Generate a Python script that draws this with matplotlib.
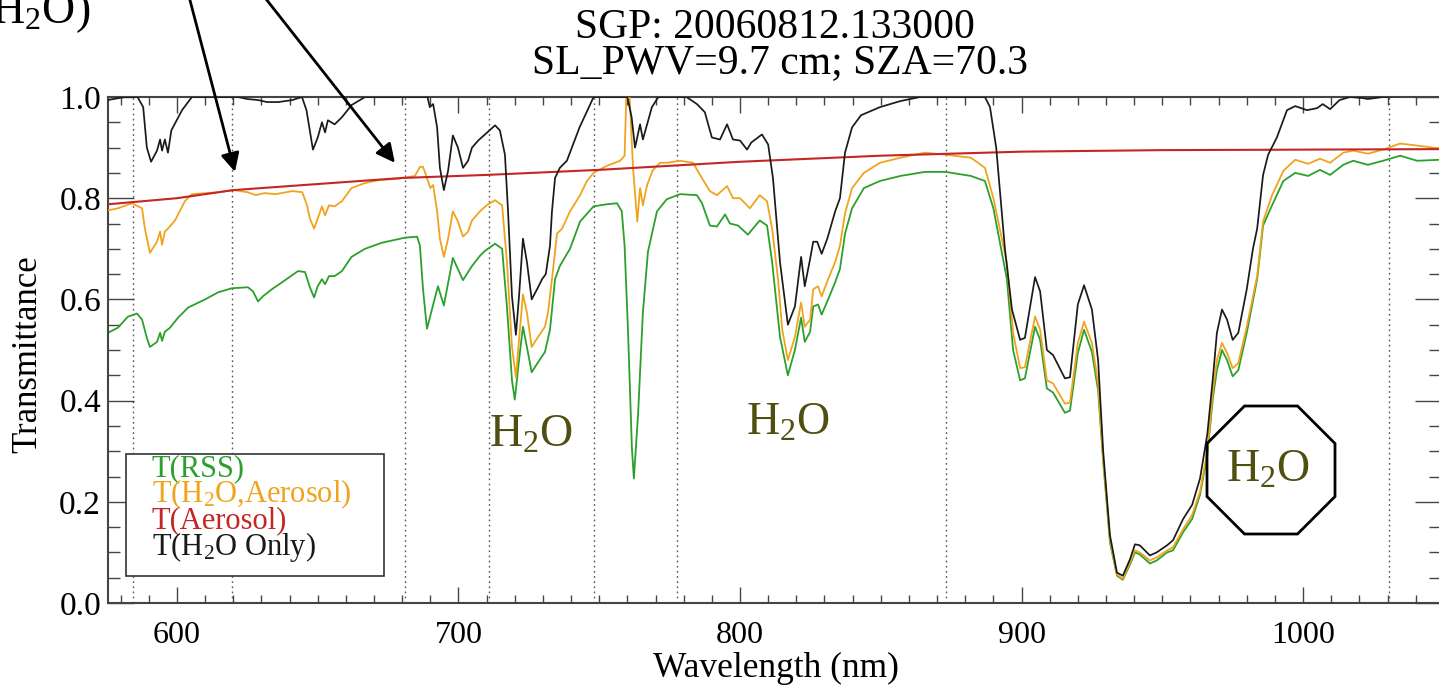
import numpy as np
import matplotlib
matplotlib.use('Agg')
import matplotlib.pyplot as plt
from matplotlib.patches import Polygon, Rectangle
from matplotlib.ticker import MultipleLocator, FormatStrFormatter

plt.rcParams['font.family'] = ['Liberation Serif', 'DejaVu Serif']
plt.rcParams['mathtext.fontset'] = 'custom'
plt.rcParams['mathtext.rm'] = 'Liberation Serif'
plt.rcParams['mathtext.it'] = 'Liberation Serif:italic'

# ---------------- data ----------------
wl_h2o = [575.5, 581.5, 586, 588, 589.3, 590.8, 592.9, 594, 594.7, 595.7, 596.8, 598, 601.8, 605.3, 610,
          621.7, 625, 628.8, 632, 636, 641, 644.4, 646, 647.2, 648.3, 650, 651.5, 652.6, 653.6, 656, 658.6,
          662, 666.8, 689, 689.8, 691, 692.4, 693.4, 694.8, 696.3, 698, 699.8, 701.6, 703.4, 704.8, 707,
          709.4, 713, 714.7, 716.5, 717.6, 719, 720.4, 721.5, 722.9, 724.3, 726, 727.9, 729.7, 731, 732.5,
          733.2, 734.3, 736, 738.5, 743, 748, 760, 761.5, 762.7, 764.5, 765.5, 767, 768.7, 771, 781, 784.7,
          787.5, 790, 792.9, 795.4, 797.5, 800, 802.5, 804, 807.8, 810, 811.7, 814.2, 817, 819.5, 821.7,
          823, 824.9, 826, 827.4, 829, 831, 833.8, 835.5, 837.3, 839.8, 843, 849.7, 857, 864, 887, 888.8,
          891, 894.1, 896.6, 899.5, 901.2, 904.8, 906.6, 909, 911.2, 915.4, 917.2, 920, 922.2, 925, 927.2,
          929, 931.4, 933.9, 936, 938.5, 940.3, 942, 945.6, 948, 951.7, 953.8, 957.4, 960.6, 963.4, 966,
          968, 969.4, 971.2, 973, 975, 977, 980, 982.2, 983.7, 985.8, 987.6, 990.7, 994.3, 997.2, 1001.4,
          1005, 1007, 1009.6, 1013, 1016.7, 1021, 1023, 1028.4, 1049]
t_h2o = [0.994, 1.0, 1.0, 0.98, 0.90, 0.872, 0.894, 0.916, 0.894, 0.916, 0.89, 0.934, 0.974, 1.0, 1.0,
         1.0, 0.996, 0.994, 0.99, 0.99, 0.994, 1.0, 0.974, 0.934, 0.896, 0.92, 0.95, 0.93, 0.954, 0.946, 0.96,
         0.984, 1.0, 1.0, 0.98, 0.986, 0.94, 0.86, 0.816, 0.854, 0.924, 0.90, 0.86, 0.874, 0.90, 0.914,
         0.926, 0.944, 0.934, 0.886, 0.774, 0.606, 0.53, 0.606, 0.72, 0.674, 0.60, 0.62, 0.64, 0.65, 0.706,
         0.774, 0.84, 0.86, 0.874, 0.94, 1.0, 1.0, 0.96, 0.90, 0.946, 0.916, 0.946, 0.98, 1.0, 1.0, 0.986,
         0.97, 0.92, 0.916, 0.946, 0.916, 0.914, 0.896, 0.91, 0.926, 0.906, 0.84, 0.674, 0.55, 0.586, 0.684,
         0.626, 0.68, 0.714, 0.714, 0.69, 0.72, 0.774, 0.80, 0.89, 0.94, 0.964, 0.98, 0.992, 1.0, 1.0, 0.98,
         0.90, 0.70, 0.58, 0.52, 0.524, 0.644, 0.616, 0.50, 0.49, 0.444, 0.446, 0.59, 0.628, 0.58, 0.48,
         0.30, 0.134, 0.06, 0.054, 0.086, 0.116, 0.114, 0.094, 0.10, 0.114, 0.124, 0.166, 0.194, 0.246, 0.334,
         0.446, 0.534, 0.58, 0.56, 0.52, 0.534, 0.62, 0.70, 0.74, 0.846, 0.886, 0.92, 0.974, 0.982, 0.974,
         0.978, 0.986, 0.976, 0.994, 1.0, 0.998, 0.996, 1.0, 1.005]

wl_h2o_aer = [575.5, 579, 584, 587.6, 588.6, 590.4, 592.9, 594, 594.7, 595.7, 596.8, 599.3, 602.8, 605.3,
              610, 615, 620, 625, 628, 631, 635, 641, 644.5, 646.2, 647.2, 648.7, 650, 651.5, 652.6, 654,
              656, 658.6, 662, 666.8, 672, 678, 684.5, 686.3, 687.4, 688.8, 690, 691, 692.4, 693.4, 694.8,
              696.3, 698, 699.8, 701.6, 703.4, 704.8, 707.6, 710, 713, 715.5, 717.2, 719, 720.4, 721.5,
              722.9, 724.3, 726, 728.3, 730.7, 731.8, 733.2, 735, 736.8, 739.6, 743.2, 745.6, 748, 752.7,
              757.4, 759, 759.6, 760.8, 762, 763.5, 764.5, 765.5, 767, 769, 771.6, 774, 778.7, 783.3, 785.8,
              789.3, 791.8, 795.4, 797.5, 800, 803.5, 807, 809.6, 811.4, 813.5, 815, 817, 819.5, 821.7, 823,
              824.9, 826, 827.7, 829, 831.3, 833.8, 835.5, 837.3, 839.8, 844, 849.7, 857, 865.7, 873, 882,
              887, 890, 894.8, 897, 899.5, 901.2, 904.8, 906.6, 909, 911.2, 915.4, 917.2, 920, 922.2, 925,
              927.2, 929, 931.4, 933.9, 936, 938.5, 940.3, 942, 945.6, 948, 951.7, 953.8, 957.4, 960.6,
              963.4, 966, 968, 969.4, 971.2, 973, 975, 977, 980, 983.7, 985.8, 989, 993, 997.2, 1001.8,
              1006, 1009.6, 1014.3, 1017.8, 1023, 1028.4, 1034.5, 1040.5, 1049]
t_h2o_aer = [0.776, 0.78, 0.79, 0.78, 0.74, 0.692, 0.714, 0.734, 0.708, 0.734, 0.74, 0.756, 0.794, 0.808,
             0.81, 0.812, 0.816, 0.812, 0.806, 0.81, 0.808, 0.814, 0.812, 0.786, 0.76, 0.74, 0.76, 0.784,
             0.766, 0.786, 0.784, 0.794, 0.82, 0.83, 0.836, 0.838, 0.844, 0.862, 0.862, 0.84, 0.82, 0.826,
             0.774, 0.72, 0.684, 0.72, 0.774, 0.754, 0.724, 0.734, 0.756, 0.774, 0.786, 0.796, 0.786, 0.674,
             0.506, 0.446, 0.52, 0.61, 0.574, 0.506, 0.526, 0.546, 0.574, 0.64, 0.73, 0.74, 0.774, 0.806,
             0.834, 0.85, 0.864, 0.874, 0.884, 1.0, 1.0, 0.86, 0.754, 0.82, 0.786, 0.826, 0.855, 0.87, 0.87,
             0.874, 0.87, 0.846, 0.814, 0.806, 0.824, 0.80, 0.80, 0.78, 0.806, 0.794, 0.74, 0.64, 0.54, 0.48,
             0.526, 0.594, 0.546, 0.56, 0.62, 0.626, 0.606, 0.64, 0.674, 0.706, 0.77, 0.82, 0.85, 0.87, 0.88,
             0.89, 0.886, 0.88, 0.86, 0.80, 0.672, 0.534, 0.464, 0.466, 0.566, 0.54, 0.44, 0.434, 0.394,
             0.396, 0.514, 0.556, 0.514, 0.434, 0.286, 0.126, 0.056, 0.048, 0.08, 0.104, 0.10, 0.084, 0.09,
             0.104, 0.11, 0.146, 0.174, 0.22, 0.30, 0.42, 0.48, 0.514, 0.494, 0.464, 0.474, 0.546, 0.646,
             0.754, 0.806, 0.854, 0.876, 0.868, 0.878, 0.87, 0.89, 0.894, 0.888, 0.896, 0.908, 0.904, 0.898]

wl_aer = [575.5, 600, 620, 650, 680, 710, 750, 800, 850, 900, 950, 1000, 1049]
t_aer = [0.788, 0.80, 0.816, 0.828, 0.84, 0.846, 0.856, 0.872, 0.884, 0.892, 0.895, 0.896, 0.897]

wl_rss = [575.5, 579, 582.6, 585.8, 587.6, 589.3, 590.4, 592.9, 594, 594.7, 595.7, 597.5, 600.4, 604, 610,
          614.6, 619.5, 625.2, 627, 628.8, 630.5, 633.7, 638.4, 643, 645.5, 647.2, 648.7, 650, 651.5, 652.6,
          654, 656, 658.6, 662, 666.8, 672.8, 681, 685.3, 686.3, 687.4, 688.8, 692.7, 694.8, 698, 699.8,
          701.6, 703.4, 704.8, 707.6, 709.4, 713, 715.5, 717.2, 719, 720, 721.5, 722.9, 724.3, 726, 728.3,
          730.7, 732.5, 734.3, 736, 739.6, 743.2, 748, 752.7, 756.3, 758, 759, 760.2, 761.6, 762.3, 763.8,
          765.5, 767.3, 770.5, 774, 778.7, 784.7, 786.5, 789.3, 791.8, 794.7, 796.4, 799.3, 802.8, 807,
          809.6, 811.4, 814.2, 817, 819.5, 821.7, 823, 824.9, 826, 827.7, 829, 831.3, 833.8, 835.5, 837.3,
          839.8, 844, 849.7, 857, 865.7, 873, 882, 887, 890, 894.8, 897, 899.5, 901.2, 904.8, 906.6, 909,
          911.2, 915.4, 917.2, 920, 922.2, 925, 927.2, 929, 931.4, 933.9, 936, 938.5, 940.3, 942, 945.6,
          948, 951.7, 953.8, 957.4, 960.6, 963.4, 966, 968, 969.4, 971.2, 973, 975, 977, 980, 983.7, 985.8,
          989, 993, 997.2, 1001.8, 1006, 1009.6, 1014.3, 1017.8, 1023, 1028.4, 1034.5, 1040.5, 1049]
t_rss = [0.534, 0.544, 0.566, 0.572, 0.56, 0.524, 0.506, 0.516, 0.534, 0.518, 0.536, 0.544, 0.564, 0.584, 0.60,
         0.614, 0.622, 0.624, 0.616, 0.596, 0.606, 0.62, 0.638, 0.656, 0.654, 0.624, 0.604, 0.626, 0.64, 0.63,
         0.646, 0.646, 0.656, 0.684, 0.70, 0.712, 0.722, 0.724, 0.706, 0.62, 0.542, 0.626, 0.588, 0.682, 0.66,
         0.638, 0.654, 0.666, 0.686, 0.696, 0.71, 0.70, 0.586, 0.44, 0.402, 0.48, 0.546, 0.506, 0.456, 0.476,
         0.496, 0.54, 0.64, 0.666, 0.70, 0.754, 0.784, 0.788, 0.79, 0.774, 0.706, 0.54, 0.306, 0.246, 0.374,
         0.574, 0.694, 0.774, 0.798, 0.808, 0.806, 0.79, 0.746, 0.744, 0.768, 0.75, 0.746, 0.728, 0.756,
         0.746, 0.674, 0.526, 0.45, 0.50, 0.564, 0.516, 0.536, 0.586, 0.59, 0.57, 0.60, 0.634, 0.66, 0.73,
         0.78, 0.82, 0.834, 0.844, 0.852, 0.852, 0.844, 0.834, 0.78, 0.64, 0.50, 0.44, 0.444, 0.546, 0.52, 0.424,
         0.416, 0.376, 0.38, 0.494, 0.54, 0.496, 0.42, 0.28, 0.12, 0.054, 0.046, 0.076, 0.10, 0.096, 0.078,
         0.084, 0.10, 0.104, 0.14, 0.166, 0.214, 0.294, 0.406, 0.46, 0.50, 0.48, 0.448, 0.46, 0.534, 0.64, 0.746,
         0.786, 0.834, 0.85, 0.844, 0.856, 0.846, 0.866, 0.874, 0.866, 0.874, 0.884, 0.874, 0.876]

channel_wl = [584.4, 619.5, 681, 711, 748, 777.6, 873, 1030.5]
arrow_tips = [(620.6, 0.852), (677.4, 0.870)]

legend_labels = ['T(RSS)', r'T(H$_{\mathregular{2}}$O,Aerosol)', 'T(Aerosol)', r'T(H$_{\mathregular{2}}$O Only)']
title_lines = ['SGP: 20060812.133000', 'SL_PWV=9.7 cm; SZA=70.3']
x_label = 'Wavelength (nm)'
y_label = 'Transmittance'
band_label = r'$\mathregular{H_2O}$'
corner_label = r'$\mathregular{(H_2O)}$'

GREEN = '#2ca02c'
ORANGE = '#f0a41e'
RED = '#c42626'
BLACK = '#1a1a1a'
OLIVE = '#4f4f10'

# ---------------- figure ----------------
W, H = 1439, 685
fig = plt.figure(figsize=(W / 100, H / 100), dpi=100)


def fx(px):
    return px / W


def fy(py):
    return 1 - py / H


ax = fig.add_axes([fx(108), fy(603), fx(1441) - fx(108), fy(97) - fy(603)])

for w in channel_wl:
    ax.axvline(w, color='#555555', lw=1.0, ls=(0, (1.2, 2.5)), zorder=1)

ax.plot(wl_rss, t_rss, color=GREEN, lw=1.3, zorder=2)
ax.plot(wl_h2o_aer, t_h2o_aer, color=ORANGE, lw=1.3, zorder=3)
ax.plot(wl_aer, t_aer, color=RED, lw=1.5, zorder=4)
ax.plot(wl_h2o, t_h2o, color=BLACK, lw=1.25, zorder=4.5)

ax.set_xlim(575.5, 1049)
ax.set_ylim(0, 1)
ax.xaxis.set_major_locator(MultipleLocator(100))
ax.xaxis.set_minor_locator(MultipleLocator(10))
ax.yaxis.set_major_locator(MultipleLocator(0.2))
ax.yaxis.set_minor_locator(MultipleLocator(0.05))
ax.xaxis.set_major_formatter(FormatStrFormatter('%d'))
ax.yaxis.set_major_formatter(FormatStrFormatter('%.1f'))
ax.tick_params(which='both', direction='in', top=True, right=True, color='#444444', width=1.0)
ax.tick_params(axis='x', which='major', length=11.5, labelsize=23, pad=13)
ax.tick_params(axis='x', which='minor', length=5.8)
ax.tick_params(axis='y', which='major', length=19, labelsize=24, pad=5)
ax.tick_params(axis='y', which='minor', length=8.6)
for s in ax.spines.values():
    s.set_color('#444444')
    s.set_linewidth(1.5)

# titles and axis labels
fig.text(fx(775), fy(38), title_lines[0], ha='center', va='baseline', fontsize=30)
fig.text(fx(780), fy(73), title_lines[1], ha='center', va='baseline', fontsize=30)
fig.text(fx(776), fy(677), x_label, ha='center', va='baseline', fontsize=25.5)
fig.text(fx(28), fy(354), y_label, ha='center', va='center', rotation=90, fontsize=25)

# legend box
rect = Rectangle((fx(126), fy(576)), fx(384) - fx(126), fy(454) - fy(576), transform=fig.transFigure,
                 facecolor='white', edgecolor='#333333', lw=1.2, zorder=6, clip_on=False)
ax.add_patch(rect)
leg_colors = [GREEN, ORANGE, RED, BLACK]
leg_base = [476, 502, 528, 555]
for lab, col, yb in zip(legend_labels, leg_colors, leg_base):
    ax.text(fx(152), fy(yb), lab, transform=fig.transFigure, color=col, fontsize=22,
            ha='left', va='baseline', zorder=7, clip_on=False)

# band annotations
for (px, py) in [(531, 447), (788, 435), (1268, 482)]:
    fig.text(fx(px), fy(py), band_label, color=OLIVE, fontsize=33, ha='center', va='baseline')

# octagon
cx, cy, R = 1271, 470, 64 / np.cos(np.pi / 8)
ang = np.pi / 8 + np.arange(8) * np.pi / 4
verts = [(fx(cx + R * np.cos(a)), fy(cy + R * np.sin(a))) for a in ang]
fig.add_artist(Polygon(verts, closed=True, transform=fig.transFigure, fill=False,
                       edgecolor='black', lw=2.0))

# top-left label and arrows
fig.text(fx(90), fy(23), corner_label, ha='right', va='baseline', fontsize=33)
for (tip, start) in zip(arrow_tips, [(186, -15), (255, -15)]):
    ax.annotate('', xy=tip, xycoords='data', xytext=(fx(start[0]), fy(start[1])),
                textcoords='figure fraction', annotation_clip=False,
                arrowprops=dict(arrowstyle='-|>', color='black', lw=2.0, mutation_scale=28,
                                shrinkA=0, shrinkB=0), zorder=8)

fig.savefig('out.png', dpi=100)
